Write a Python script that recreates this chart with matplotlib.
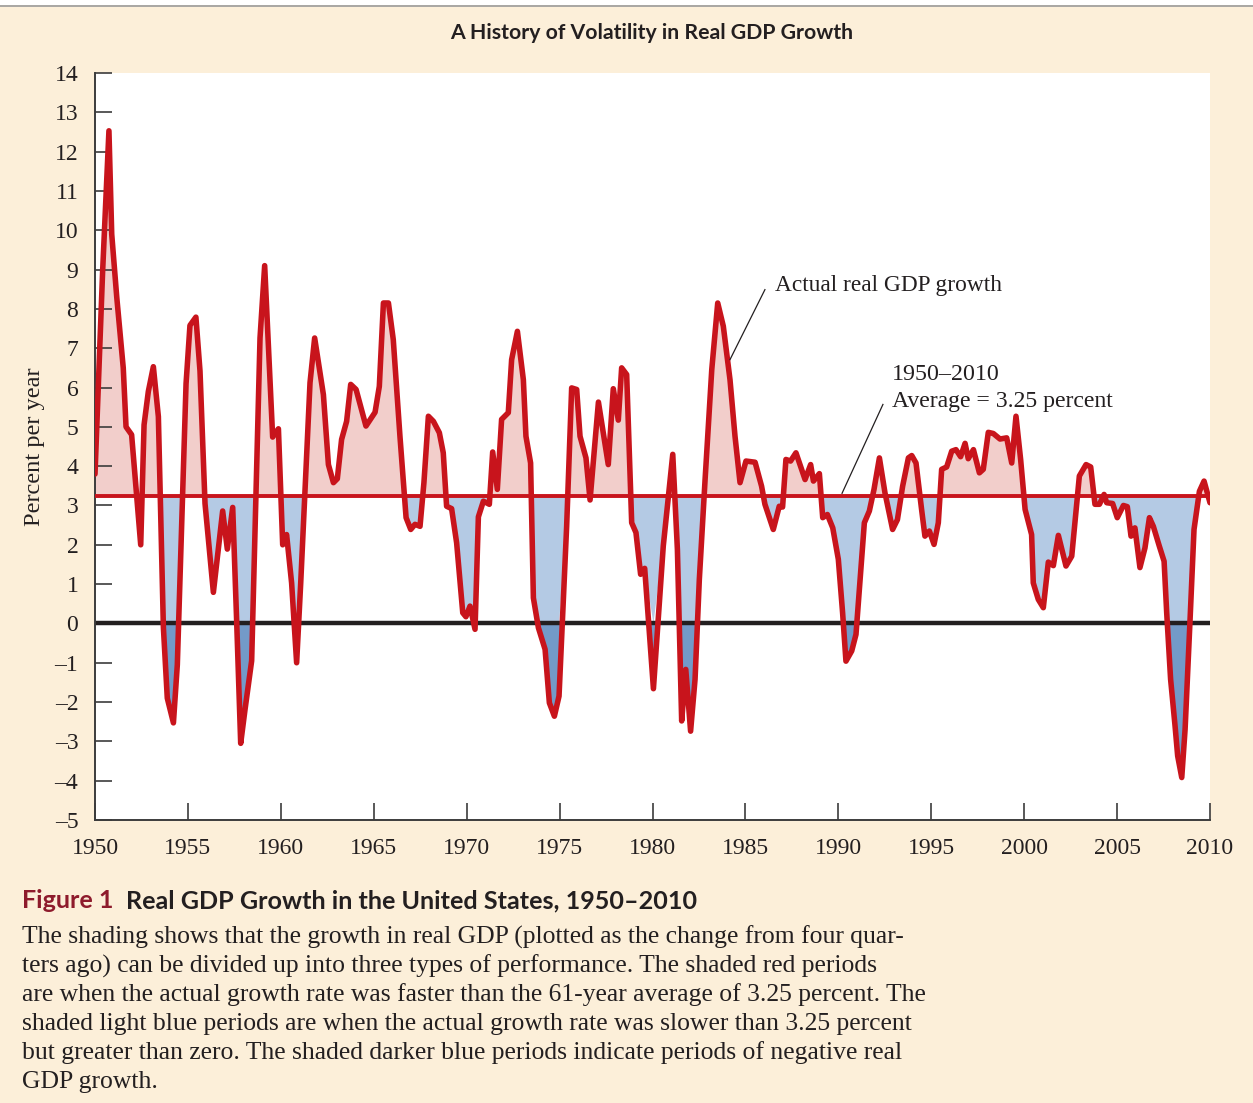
import matplotlib
matplotlib.use("Agg")
import matplotlib.pyplot as plt
import numpy as np

# ---------------- data ----------------
years = [1950.0, 1950.41, 1950.75, 1950.9, 1951.17, 1951.52, 1951.67, 1951.97, 1952.46, 1952.64,
         1952.87, 1953.14, 1953.41, 1953.68, 1953.89, 1954.22, 1954.43, 1954.9, 1955.11, 1955.43,
         1955.65, 1955.92, 1956.37, 1956.87, 1957.12, 1957.41, 1957.62, 1957.84, 1958.07, 1958.43,
         1958.88, 1959.13, 1959.56, 1959.87, 1960.1, 1960.31, 1960.58, 1960.85, 1961.07, 1961.57,
         1961.82, 1962.29, 1962.56, 1962.83, 1963.04, 1963.27, 1963.54, 1963.76, 1964.05, 1964.58,
         1965.07, 1965.3, 1965.52, 1965.79, 1966.05, 1966.41, 1966.74, 1966.99, 1967.22, 1967.49,
         1967.7, 1967.94, 1968.21, 1968.53, 1968.74, 1968.92, 1969.19, 1969.46, 1969.79, 1969.96,
         1970.18, 1970.45, 1970.63, 1970.9, 1971.22, 1971.4, 1971.65, 1971.88, 1972.24, 1972.42,
         1972.73, 1973.05, 1973.19, 1973.44, 1973.59, 1973.86, 1974.22, 1974.45, 1974.72, 1974.97,
         1975.38, 1975.65, 1975.92, 1976.1, 1976.42, 1976.64, 1977.09, 1977.62, 1977.89, 1978.16,
         1978.34, 1978.61, 1978.88, 1979.11, 1979.36, 1979.58, 1980.05, 1980.58, 1981.09, 1981.34,
         1981.57, 1981.79, 1982.05, 1982.29, 1982.52, 1982.83, 1983.19, 1983.51, 1983.81, 1984.17,
         1984.44, 1984.71, 1985.03, 1985.52, 1985.87, 1986.05, 1986.5, 1986.82, 1987.0, 1987.18,
         1987.43, 1987.72, 1988.21, 1988.51, 1988.66, 1988.98, 1989.16, 1989.41, 1989.7, 1990.0,
         1990.23, 1990.41, 1990.72, 1990.95, 1991.17, 1991.4, 1991.67, 1991.92, 1992.21, 1992.51,
         1992.92, 1993.18, 1993.46, 1993.77, 1993.95, 1994.18, 1994.48, 1994.66, 1994.9, 1995.15,
         1995.38, 1995.56, 1995.83, 1996.1, 1996.33, 1996.58, 1996.82, 1996.99, 1997.27, 1997.59,
         1997.8, 1998.07, 1998.34, 1998.7, 1999.06, 1999.33, 1999.56, 1999.81, 2000.05, 2000.4,
         2000.49, 2000.76, 2001.03, 2001.3, 2001.57, 2001.84, 2002.25, 2002.56, 2002.97, 2003.33,
         2003.58, 2003.81, 2004.05, 2004.3, 2004.44, 2004.76, 2005.01, 2005.34, 2005.55, 2005.75,
         2005.96, 2006.23, 2006.5, 2006.74, 2006.95, 2007.27, 2007.53, 2007.67, 2007.88, 2008.12,
         2008.26, 2008.48, 2008.66, 2008.92, 2009.14, 2009.43, 2009.68, 2010.0]
growth = [3.8, 8.95, 12.53, 9.9, 8.3, 6.5, 5.0, 4.8, 2.0, 5.05,
          5.9, 6.53, 5.26, -0.1, -1.9, -2.53, -1.05, 6.1, 7.58, 7.79,
          6.42, 3.05, 0.79, 2.86, 1.89, 2.95, 0.1, -3.05, -2.2, -0.95,
          7.26, 9.1, 4.74, 4.95, 2.0, 2.26, 1.03, -1.0, 1.03, 6.12,
          7.26, 5.82, 4.04, 3.58, 3.68, 4.68, 5.14, 6.08, 5.95, 5.02,
          5.37, 6.03, 8.15, 8.15, 7.22, 4.76, 2.69, 2.39, 2.52, 2.47,
          3.58, 5.27, 5.14, 4.85, 4.34, 2.98, 2.92, 2.05, 0.27, 0.17,
          0.44, -0.15, 2.71, 3.11, 3.03, 4.36, 3.41, 5.19, 5.36, 6.71,
          7.43, 6.2, 4.76, 4.08, 0.65, -0.11, -0.66, -2.02, -2.36, -1.85,
          2.47, 5.99, 5.95, 4.76, 4.21, 3.14, 5.63, 4.04, 5.97, 5.17,
          6.5, 6.33, 2.56, 2.31, 1.25, 1.4, -1.66, 1.97, 4.3, 1.88,
          -2.48, -1.17, -2.74, -1.42, 1.12, 3.66, 6.46, 8.15, 7.56, 6.2,
          4.76, 3.58, 4.13, 4.1, 3.49, 3.03, 2.39, 2.98, 2.96, 4.17,
          4.13, 4.34, 3.66, 4.04, 3.62, 3.81, 2.69, 2.77, 2.43, 1.63,
          0.27, -0.96, -0.7, -0.28, 1.12, 2.56, 2.86, 3.41, 4.21, 3.32,
          2.39, 2.64, 3.49, 4.21, 4.27, 4.08, 2.9, 2.22, 2.35, 2.01,
          2.56, 3.92, 3.98, 4.38, 4.42, 4.24, 4.58, 4.19, 4.42, 3.83,
          3.92, 4.86, 4.83, 4.69, 4.72, 4.08, 5.27, 4.17, 2.9, 2.26,
          1.03, 0.61, 0.4, 1.56, 1.47, 2.24, 1.46, 1.71, 3.75, 4.04,
          3.98, 3.03, 3.03, 3.28, 3.07, 3.05, 2.69, 3.0, 2.97, 2.22,
          2.43, 1.42, 1.92, 2.69, 2.47, 1.97, 1.58, 0.27, -1.42, -2.61,
          -3.37, -3.92, -2.69, 0.02, 2.39, 3.36, 3.62, 3.07]
average = 3.25
x_ticks = [1950, 1955, 1960, 1965, 1970, 1975, 1980, 1985, 1990, 1995, 2000, 2005, 2010]
y_ticks = list(range(-5, 15))

title = "A History of Volatility in Real GDP Growth"
label_actual = "Actual real GDP growth"
label_avg_1 = "1950–2010"
label_avg_2 = "Average = 3.25 percent"
ylabel = "Percent per year"
fig_label = "Figure 1"
fig_heading = "Real GDP Growth in the United States, 1950–2010"
caption_lines = [
    "The shading shows that the growth in real GDP (plotted as the change from four quar-",
    "ters ago) can be divided up into three types of performance. The shaded red periods",
    "are when the actual growth rate was faster than the 61-year average of 3.25 percent. The",
    "shaded light blue periods are when the actual growth rate was slower than 3.25 percent",
    "but greater than zero. The shaded darker blue periods indicate periods of negative real",
    "GDP growth.",
]

# ---------------- style ----------------
CREAM = "#FCEFD9"
RED = "#C8141C"
RED_FILL = "#F2CECB"
BLUE_L = "#B4CAE4"
BLUE_D = "#739AC8"
DARK = "#231F20"
AXC = "#3C3C3C"
SERIF = ["Liberation Serif", "DejaVu Serif"]
SANS = ["Lato", "DejaVu Sans"]

W, H = 1253, 1103
fig = plt.figure(figsize=(W / 100, H / 100), dpi=100, facecolor=CREAM)
renderer = fig.canvas.get_renderer()


def fit_text(xpx, ypx, s, width_px, size0=16, ha="left", **kw):
    """Place text at pixel position, scaling font size so its width matches width_px."""
    t = fig.text(xpx / W, 1 - ypx / H, s, ha=ha, va="center", fontsize=size0, **kw)
    w = t.get_window_extent(renderer).width
    t.set_fontsize(size0 * width_px / w)
    return t


# white strip + grey rule at the top
fig.patches.append(plt.Rectangle((0, 1 - 5 / H), 1, 5 / H, transform=fig.transFigure,
                                 facecolor="white", edgecolor="none", zorder=0))
fig.add_artist(plt.Line2D([0, 1], [1 - 6 / H, 1 - 6 / H], transform=fig.transFigure,
                          color="#9A9A9A", lw=1.2))

ax = fig.add_axes([95 / W, 1 - 820 / H, (1210 - 95) / W, (820 - 73) / H])
ax.set_facecolor("white")

x = np.array(years)
y = np.array(growth)
ax.fill_between(x, average, y, where=y >= average, interpolate=True,
                facecolor=RED_FILL, edgecolor="none", zorder=1)
ax.fill_between(x, average, np.maximum(y, 0), where=y <= average, interpolate=True,
                facecolor=BLUE_L, edgecolor="none", zorder=1)
ax.fill_between(x, 0, y, where=y <= 0, interpolate=True,
                facecolor=BLUE_D, edgecolor="none", zorder=1)

ax.axhline(0, color=DARK, lw=3.2, zorder=2)
ax.axhline(average, color=RED, lw=2.8, zorder=3)
ax.plot(x, y, color=RED, lw=4.0, solid_joinstyle="round", solid_capstyle="round", zorder=4)

ax.set_xlim(1950, 2010)
ax.set_ylim(-5, 14)
ax.set_xticks(x_ticks)
ax.set_xticklabels([str(v) for v in x_ticks])
ax.set_yticks(y_ticks)
ax.set_yticklabels([("\u2013" + str(-v)) if v < 0 else str(v) for v in y_ticks])
for s in ["top", "right"]:
    ax.spines[s].set_visible(False)
for s in ["left", "bottom"]:
    ax.spines[s].set_color(AXC)
    ax.spines[s].set_linewidth(1.4)
ax.tick_params(axis="both", direction="in", length=12, width=1.2, color=AXC,
               labelsize=17, labelcolor=DARK)
ax.tick_params(axis="y", pad=12)
ax.tick_params(axis="x", pad=13)
for lab in ax.get_xticklabels() + ax.get_yticklabels():
    lab.set_fontfamily(SERIF)

t = fig.text(35 / W, 1 - 447 / H, ylabel, rotation=90, ha="center", va="center",
             fontsize=16, family=SERIF, color=DARK)
h = t.get_window_extent(renderer).height
t.set_fontsize(16 * 159 / h)

# annotations
fit_text(775, 286, label_actual, 227, family=SERIF, color=DARK)
ax.plot([1986.05, 1984.17], [8.49, 6.71], color=DARK, lw=0.9, zorder=5)
fit_text(892, 375, label_avg_1, 108, family=SERIF, color=DARK)
fit_text(892, 401, label_avg_2, 222, family=SERIF, color=DARK)
ax.plot([1992.4, 1990.2], [5.57, 3.31], color=DARK, lw=0.9, zorder=5)

# title
fit_text(652, 33, title, 403, ha="center", fontweight="bold", family=SANS, color=DARK)

# caption heading: one size for label and heading, total width fitted
tl = fig.text(22 / W, 1 - 901 / H, fig_label, ha="left", va="center", fontsize=16,
              fontweight="bold", family=SANS, color="#8E1B2C")
th = fig.text(0.5, 1 - 901 / H, fig_heading, ha="left", va="center", fontsize=16,
              fontweight="bold", family=SANS, color=DARK)
gap = 12
total = tl.get_window_extent(renderer).width + th.get_window_extent(renderer).width
head_size = 16 * (676 - gap) / total
tl.set_fontsize(head_size)
th.set_fontsize(head_size)
th.set_x((tl.get_window_extent(renderer).x1 + gap) / W)

# caption body: one size for all lines, set from the first line's width
t0 = fig.text(22 / W, 1 - 937 / H, caption_lines[0], ha="left", va="center",
              fontsize=16, family=SERIF, color=DARK)
body_size = 16 * 881 / t0.get_window_extent(renderer).width
t0.set_fontsize(body_size)
for i, line in enumerate(caption_lines[1:], start=1):
    fig.text(22 / W, 1 - (937 + i * 29) / H, line, ha="left", va="center",
             fontsize=body_size, family=SERIF, color=DARK)

fig.savefig("out.png", dpi=100, facecolor=CREAM)
